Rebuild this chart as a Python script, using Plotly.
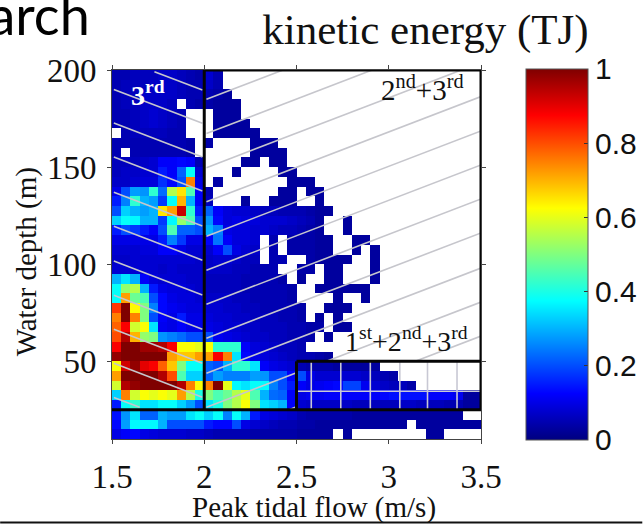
import plotly.graph_objects as go

W, H = 643, 525
L, R, T, B = 112, 481.5, 70, 438.6

_ = None
# each row: cells from the named depth (top edge, m) down 5 m; 40 flow bins of 0.05 m/s from 1.5
r200 = [.05,.05,.06,.06,.06,.07,.07,.06,.05,.04,.08,.05,_,_,_,_,_,_,_,_,_,_,_,_,_,_,_,_,_,_,_,_,_,_,_,_,_,_,_,_]
r195 = [.05,.06,.06,.06,.07,.07,.07,.06,.05,.05,.07,.05,_,_,_,_,_,_,_,_,_,_,_,_,_,_,_,_,_,_,_,_,_,_,_,_,_,_,_,_]
r190 = [.05,.06,.06,.07,.07,.07,.07,.06,.05,.05,.05,.04,.03,_,_,_,_,_,_,_,_,_,_,_,_,_,_,_,_,_,_,_,_,_,_,_,_,_,_,_]
r185 = [.05,.06,.06,.07,.07,.07,.06,_,.05,.04,.04,.03,.03,.03,_,_,_,_,_,_,_,_,_,_,_,_,_,_,_,_,_,_,_,_,_,_,_,_,_,_]
r180 = [.05,.05,.06,.07,.08,.07,.06,.05,_,_,_,.03,.03,.03,_,_,_,_,_,_,_,_,_,_,_,_,_,_,_,_,_,_,_,_,_,_,_,_,_,_]
r175 = [.05,.05,.06,.07,.08,.07,.06,.05,_,_,_,.03,.03,.03,.03,_,_,_,_,_,_,_,_,_,_,_,_,_,_,_,_,_,_,_,_,_,_,_,_,_]
r170 = [_,.05,.06,.06,.06,.06,.05,.05,_,_,_,.03,.03,.03,.03,.03,_,_,_,_,_,_,_,_,_,_,_,_,_,_,_,_,_,_,_,_,_,_,_,_]
r165 = [.05,.05,.05,.05,.05,.05,.05,.05,.04,_,.04,_,_,_,_,.03,.03,.03,_,_,_,_,_,_,_,_,_,_,_,_,_,_,_,_,_,_,_,_,_,_]
r160 = [.05,_,.05,.05,.05,.05,.05,.05,.04,_,_,_,_,_,_,.03,.03,.03,.03,_,_,_,_,_,_,_,_,_,_,_,_,_,_,_,_,_,_,_,_,_]
r155 = [.06,.06,.06,.07,.08,.12,.12,.13,.12,.05,_,_,_,_,.03,.03,_,.03,.03,_,_,_,_,_,_,_,_,_,_,_,_,_,_,_,_,_,_,_,_,_]
r150 = [.06,.07,.07,.08,.08,.15,.12,.22,.38,.08,_,_,_,.03,_,_,_,_,.03,.03,_,_,_,_,_,_,_,_,_,_,_,_,_,_,_,_,_,_,_,_]
r145 = [.07,.07,.08,.09,.09,.17,.13,.20,.75,.10,_,.04,_,_,_,_,_,_,_,.03,.03,.03,_,_,_,_,_,_,_,_,_,_,_,_,_,_,_,_,_,_]
r140 = [.10,.20,.28,.27,.42,.23,.55,.65,.45,.12,.05,_,_,_,_,_,_,_,.03,.03,_,.03,.03,_,_,_,_,_,_,_,_,_,_,_,_,_,_,_,_,_]
r135 = [.15,.25,.42,.30,.28,.18,.38,.70,.30,.12,.06,_,_,_,.03,_,_,.03,.03,.03,_,_,.03,_,_,_,_,_,_,_,_,_,_,_,_,_,_,_,_,_]
r130 = [.20,.33,.30,.28,.30,.65,.72,.93,.42,.15,.22,.12,.09,.08,.08,.07,.06,.06,.05,.05,.05,.04,.03,.03,_,_,_,_,_,_,_,_,_,_,_,_,_,_,_,_]
r125 = [.33,.38,.37,.30,.30,.18,.37,.52,.45,.20,.27,.13,.09,.10,.09,.09,.08,.08,.08,.07,.06,.05,.03,_,_,.03,_,_,_,_,_,_,_,_,_,_,_,_,_,_]
r120 = [.15,.20,.18,.15,.12,.20,.45,.22,.22,.20,.30,.25,.10,.09,.09,.08,.08,.07,.06,.06,.05,.04,.03,_,_,.03,_,_,_,_,_,_,_,_,_,_,_,_,_,_]
r115 = [.10,.10,.10,.10,.10,.15,.25,.18,.10,.10,.12,.24,.12,.09,.09,.08,_,.05,_,.04,.04,.04,.03,.03,_,_,.03,.03,_,_,_,_,_,_,_,_,_,_,_,_]
r110 = [.08,.08,.08,.09,.09,.12,.12,.10,.08,.08,.08,.12,.20,.10,.08,.07,_,.05,_,.04,.04,.04,.03,.03,_,_,.03,_,.03,_,_,_,_,_,_,_,_,_,_,_]
r105 = [.07,.07,.08,.08,.08,.08,.08,.08,.08,.07,.07,.08,.08,.07,.06,.06,_,.05,.05,_,_,.04,.03,.03,.03,.03,_,_,.03,_,_,_,_,_,_,_,_,_,_,_]
r100 = [.08,.08,.08,.08,.08,.07,.08,.07,.07,.07,.07,.07,.07,.06,.06,.05,.05,.05,_,_,.04,.04,_,.03,.03,_,_,_,.03,_,_,_,_,_,_,_,_,_,_,_]
r95  = [.30,.35,.30,.12,.09,.08,.08,.08,.07,.07,.06,.06,.06,.06,.05,.05,.05,.05,.04,_,.03,_,_,.03,.03,_,_,_,.03,_,_,_,_,_,_,_,_,_,_,_]
r90  = [.38,.52,.55,.30,.15,.10,.09,.09,.08,.07,.06,.06,.06,.06,.05,.05,.05,.05,.05,.04,_,_,.03,.03,.03,.03,.03,.03,_,_,_,_,_,_,_,_,_,_,_,_]
r85  = [.38,.72,.48,.45,.20,.13,.10,.09,.09,.08,.07,.07,.07,.06,.06,.05,.05,.05,.05,.04,_,_,_,_,.03,_,_,.03,_,_,_,_,_,_,_,_,_,_,_,_]
r80  = [.82,1.0,.63,.50,.25,.13,.11,.10,.09,.09,.08,.08,.07,.07,.06,.06,.05,.05,.05,.05,.04,_,_,.03,.03,.03,_,_,_,_,_,_,_,_,_,_,_,_,_,_]
r75  = [.75,1.0,.75,.50,.20,.12,.10,.15,.10,.10,.09,.08,.08,.07,.07,.06,.06,.06,.05,.05,.04,_,.03,_,.03,_,_,_,_,_,_,_,_,_,_,_,_,_,_,_]
r70  = [.78,.88,.58,.62,.35,.11,.10,.12,.10,.10,.10,.09,.08,.08,.07,.07,.06,.06,.06,.05,.05,.04,.04,_,.03,.03,_,_,_,_,_,_,_,_,_,_,_,_,_,_]
r65  = [.80,.95,.70,.52,.50,.27,.25,.23,.20,.20,.20,.11,.10,.09,.08,.07,.07,.06,.06,.05,.05,.04,_,.03,_,_,_,_,_,_,_,_,_,_,_,_,_,_,_,_]
r60  = [.88,1.0,1.0,.97,.97,.95,.88,.62,.62,.60,.62,.42,.42,.42,.12,.09,.08,.07,.06,.06,.05,_,_,_,_,_,_,_,_,_,_,_,_,_,_,_,_,_,_,_]
r55  = [.98,1.0,1.0,1.0,1.0,1.0,.72,.68,.68,.72,.72,.88,.75,.35,.13,.10,.09,.08,.07,.06,.05,.05,.04,.03,_,_,_,_,_,_,_,_,_,_,_,_,_,_,_,_]
r50  = [.62,.92,.98,.90,.88,.78,.68,.50,.38,.38,.22,.20,.30,.42,.42,.35,.12,.10,.09,.08,.05,.04,.04,.04,.03,.03,.03,.03,.03,_,_,_,_,_,_,_,_,_,_,_]
r45  = [.72,1.0,1.0,1.0,1.0,.95,.80,.45,.33,.33,.22,.28,.25,.25,.25,.28,.27,.20,.20,.12,.20,.10,.08,.08,.08,.08,.08,.07,.06,.05,.04,_,_,_,_,_,_,_,_,_]
r40  = [.58,.95,.98,1.0,1.0,1.0,1.0,.95,.75,.62,.75,1.0,.60,.37,.35,.38,.37,.25,.20,.15,.12,.10,.11,.12,.13,.19,.19,.11,.08,.07,.06,.06,.04,_,_,_,_,_,_,_]
r35  = [.33,.75,.58,.62,.60,.62,.60,.72,.55,.40,.50,.45,.48,.55,.60,.45,.30,.23,.22,.12,.10,.11,.11,.12,.12,.12,.12,.12,.12,.13,.14,.14,.14,.14,.12,.12,.12,.11,.03,.03]
r30  = [.15,.38,.42,.35,.35,.38,.38,.33,.28,.20,.35,.40,.50,.55,.62,.50,.35,.33,.30,.12,.08,.07,.07,.07,.07,.07,.06,.06,.06,.06,.06,.07,.07,.06,.06,.06,.05,.05,.03,.03]
r25  = [.14,.27,.35,.22,.22,.30,.28,.28,.35,.38,.33,.38,.25,.38,.30,.15,.10,.09,.08,.07,.05,.04,.04,.04,.04,.04,.03,.03,.03,.03,.03,.03,.03,.03,.03,.03,.03,.03,_,_]
r20  = [.13,.28,.37,.37,.37,.30,.20,.20,.20,.20,.15,.13,.13,.20,.10,.08,.07,.06,.05,.05,.04,.04,.03,.03,.03,.03,.03,.03,.03,.03,.03,.03,_,.03,.03,.03,.03,.03,.03,.03]
r15  = [.10,.12,.13,.10,.09,.08,.08,.08,.07,.07,.06,.05,.05,.05,.05,.04,.04,.04,.04,.04,.03,.03,.03,.03,_,.03,_,_,_,_,_,_,_,_,.03,.03,_,_,_,_]

energy_rows = [r15, r20, r25, r30, r35, r40, r45, r50, r55, r60, r65, r70, r75, r80, r85, r90, r95,
               r100, r105, r110, r115, r120, r125, r130, r135, r140, r145, r150, r155, r160, r165,
               r170, r175, r180, r185, r190, r195, r200]
depth_centres = [12.5, 17.5, 22.5, 27.5, 32.5, 37.5, 42.5, 47.5, 52.5, 57.5, 62.5, 67.5, 72.5, 77.5, 82.5,
                 87.5, 92.5, 97.5, 102.5, 107.5, 112.5, 117.5, 122.5, 127.5, 132.5, 137.5, 142.5, 147.5,
                 152.5, 157.5, 162.5, 167.5, 172.5, 177.5, 182.5, 187.5, 192.5, 197.5]
flow_centres = [1.525, 1.575, 1.625, 1.675, 1.725, 1.775, 1.825, 1.875, 1.925, 1.975,
                2.025, 2.075, 2.125, 2.175, 2.225, 2.275, 2.325, 2.375, 2.425, 2.475,
                2.525, 2.575, 2.625, 2.675, 2.725, 2.775, 2.825, 2.875, 2.925, 2.975,
                3.025, 3.075, 3.125, 3.175, 3.225, 3.275, 3.325, 3.375, 3.425, 3.475]
x_ticks = [1.5, 2, 2.5, 3, 3.5]
y_ticks = [50, 100, 150, 200]
bar_ticks = [0, 0.2, 0.4, 0.6, 0.8, 1]

# hatch segments (flow, depth)
hatch_left = [(1.73, 199.1, 1.99, 189.7), (1.51, 190.0, 1.99, 172.6), (1.51, 172.7, 1.99, 155.2),
              (1.51, 155.2, 1.99, 137.7), (1.51, 137.1, 1.99, 119.7), (1.51, 119.6, 1.99, 102.1),
              (1.51, 101.7, 1.99, 84.2), (1.51, 84.0, 1.99, 66.5), (1.51, 66.5, 1.99, 49.0),
              (1.51, 49.0, 1.99, 31.5), (1.51, 31.4, 1.65, 26.4)]
hatch_right = [(2.012, 184.9, 2.427, 200), (2.012, 167.3, 2.91, 200), (2.012, 149.7, 3.394, 200),
               (2.012, 132.1, 3.5, 186.3), (2.012, 114.4, 3.5, 168.6), (2.012, 96.9, 3.5, 151.1),
               (2.012, 79.4, 3.5, 133.6), (2.012, 61.9, 3.5, 116.1), (2.012, 43.8, 3.5, 98.0),
               (2.012, 26.3, 2.5, 44.06), (2.663, 50, 3.5, 80.5), (2.457, 25, 2.5, 26.6), (3.144, 50, 3.5, 63)]
grid_flow = [2.58, 2.74, 2.90, 3.06, 3.21, 3.37]
grid_depth = [34.6]
frame = [(2, 200, 3.5, 200), (2, 200, 2, 25), (3.5, 200, 3.5, 25), (1.5, 25, 3.5, 25),
         (2.5, 50, 3.5, 50), (2.5, 50, 2.5, 25)]

jet = [[0, "#00007f"], [0.125, "#0000ff"], [0.375, "#00ffff"], [0.625, "#ffff00"],
       [0.875, "#ff0000"], [1, "#7f0000"]]

# pixel position in the window -> paper fraction of the plot area
def px(x):
    return (x - L) / (R - L)

def py(y):
    return (B - y) / (B - T)

def seg_xy(segs):
    xs, ys = [], []
    for a, b, c, d in segs:
        xs += [a, c, None]
        ys += [b, d, None]
    return xs, ys

fig = go.Figure()
fig.add_trace(go.Heatmap(
    x=flow_centres, y=depth_centres, z=energy_rows, zmin=0, zmax=1, colorscale=jet, zsmooth=False,
    hoverongaps=False,
    colorbar=dict(
        x=px(527), xanchor="left", xpad=0,
        y=py(69), yanchor="top", ypad=0,
        len=371, lenmode="pixels", thickness=62, thicknessmode="pixels",
        tickvals=bar_ticks, ticktext=["0", "0.2", "0.4", "0.6", "0.8", "1"],
        ticks="inside", ticklen=4, tickcolor="#333", outlinecolor="#555", outlinewidth=1,
        tickfont=dict(family="Liberation Sans", size=30, color="#111"),
    ),
))
hx, hy = seg_xy(hatch_left + hatch_right)
fig.add_trace(go.Scatter(x=hx, y=hy, mode="lines", line=dict(color="#c6c6cc", width=1.6),
                         hoverinfo="skip", showlegend=False))
gx, gy = seg_xy([(g, 25, g, 50) for g in grid_flow] + [(2.5, d, 3.5, d) for d in grid_depth])
fig.add_trace(go.Scatter(x=gx, y=gy, mode="lines", line=dict(color="#c8c8d4", width=1.6),
                         hoverinfo="skip", showlegend=False))

shapes = [dict(type="line", xref="x", yref="y", x0=a, y0=b, x1=c, y1=d,
               line=dict(color="#050505", width=3), layer="above") for a, b, c, d in frame]
shapes.append(dict(type="line", xref="paper", yref="paper", x0=px(0), x1=px(W), y0=py(522), y1=py(522),
                   line=dict(color="#111", width=2), layer="above"))

serif = "Liberation Serif"
ann = [
    dict(text="Research", x=px(92), y=py(49), xanchor="right", yanchor="bottom",
         font=dict(family="Lato", size=54, color="#000")),
    dict(text="Peak tidal flow (m/s)", x=px(314), y=py(507), xanchor="center", yanchor="middle",
         font=dict(family=serif, size=29, color="#111")),
    dict(text="Water depth (m)", x=px(26), y=py(262), xanchor="center", yanchor="middle", textangle=-90,
         font=dict(family=serif, size=29, color="#111")),
    dict(text="<b>3<sup>rd</sup></b>", x=px(148), y=py(93), xanchor="center", yanchor="middle",
         font=dict(family=serif, size=28, color="#ffffff")),
    dict(text="2<sup>nd</sup>+3<sup>rd</sup>", x=px(423), y=py(88), xanchor="center", yanchor="middle",
         font=dict(family=serif, size=29, color="#111")),
    dict(text="1<sup>st</sup>+2<sup>nd</sup>+3<sup>rd</sup>", x=px(407), y=py(339), xanchor="center", yanchor="middle",
         font=dict(family=serif, size=28, color="#111")),
]
for a in ann:
    a.update(xref="paper", yref="paper", showarrow=False)

axis_common = dict(showline=True, mirror="ticks", linecolor="#444", linewidth=1, ticks="outside", ticklen=4,
                   tickcolor="#444", showgrid=False, zeroline=False,
                   tickfont=dict(family=serif, size=33, color="#111"))
fig.update_layout(
    width=W, height=H, autosize=False, paper_bgcolor="white", plot_bgcolor="white",
    margin=dict(l=L, r=W - R, t=T, b=H - B, pad=0, autoexpand=False),
    title=dict(text="kinetic energy (TJ)", x=425.5 / W, xref="container", xanchor="center",
               y=1 - 29 / H, yref="container", yanchor="middle",
               font=dict(family=serif, size=43, color="#111")),
    xaxis=dict(range=[1.5, 3.5], tickvals=x_ticks, ticktext=["1.5", "2", "2.5", "3", "3.5"],
               ticklabelstandoff=4, **axis_common),
    yaxis=dict(range=[10, 200], tickvals=y_ticks, ticklabelstandoff=4, **axis_common),
    shapes=shapes, annotations=ann, showlegend=False,
)
fig.write_html("out.html", config=dict(displayModeBar=False),
               post_script="document.body.style.margin='0';")
